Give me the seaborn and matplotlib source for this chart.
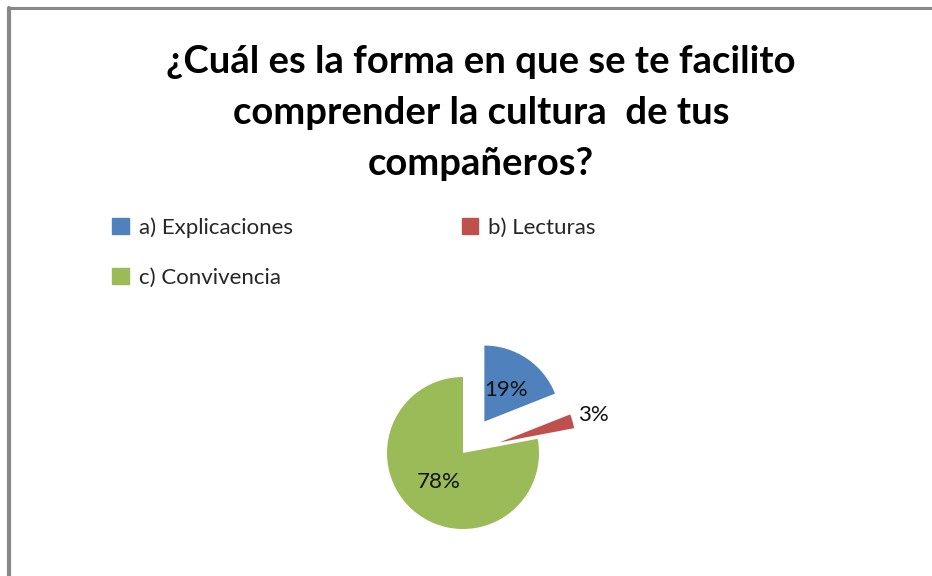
import numpy as np
import matplotlib
matplotlib.use("Agg")
import matplotlib.pyplot as plt
from matplotlib.lines import Line2D
import seaborn as sns

categories = ["a) Explicaciones", "b) Lecturas", "c) Convivencia"]
shares = [19, 3, 78]
colors = ["#4F81BD", "#C0504D", "#9BBB59"]
explode = [0.5, 0.5, 0.0]
title_lines = ["¿Cuál es la forma en que se te facilito",
               "comprender la cultura  de tus",
               "compañeros?"]

sns.set_theme(style="white")
plt.rcParams["font.family"] = ["Lato", "DejaVu Sans"]

W, H = 932, 576
fig = plt.figure(figsize=(W / 100, H / 100), dpi=100)
fig.patch.set_facecolor("white")

# chart-area frame: top and left edges
fig.add_artist(Line2D([9 / W, 1.0], [1 - 8 / H, 1 - 8 / H], color="#888888", lw=2.2,
                      transform=fig.transFigure))
fig.add_artist(Line2D([9 / W, 9 / W], [0.0, 1 - 8 / H], color="#888888", lw=3.0,
                      transform=fig.transFigure))

# title
for i, line in enumerate(title_lines):
    fig.text(481 / W, 1 - (62 + 51 * i) / H, line, ha="center", va="center",
             fontsize=27.5, fontweight="bold", color="black")

# pie axes: centre at (463, 453) px, radius 76 px
cx, cy, r_px = 463, 453, 76
half = 1.6
size = 2 * half * r_px
ax = fig.add_axes([(cx - size / 2) / W, (H - cy - size / 2) / H, size / W, size / H])
wedges, texts, autotexts = ax.pie(
    shares, colors=colors, explode=explode, startangle=90, counterclock=False,
    autopct=lambda p: f"{p:.0f}%", pctdistance=0.5,
    wedgeprops=dict(linewidth=0),
    textprops=dict(fontsize=16, color="#111111"))
ax.set_xlim(-half, half)
ax.set_ylim(-half, half)
ax.set_aspect("equal")
ax.axis("off")

# small slice: put its label outside the wedge
w = wedges[1]
theta = np.deg2rad((w.theta1 + w.theta2) / 2)
d = explode[1] + 1.28
autotexts[1].set_position((d * np.cos(theta), d * np.sin(theta)))

# legend, filled row by row (a, b on the first row; c on the second)
handles = [plt.Rectangle((0, 0), 1, 1, color=c) for c in colors]
order = [0, 2, 1]
fig.legend([handles[i] for i in order], [categories[i] for i in order],
           loc="upper left", bbox_to_anchor=(112 / W, 1 - 217 / H),
           ncol=2, frameon=False, fontsize=16, handlelength=0.75, handleheight=0.75,
           handletextpad=0.45, columnspacing=7.6, labelspacing=1.35,
           borderaxespad=0, borderpad=0)

fig.savefig("out.png", dpi=100, facecolor="white")
